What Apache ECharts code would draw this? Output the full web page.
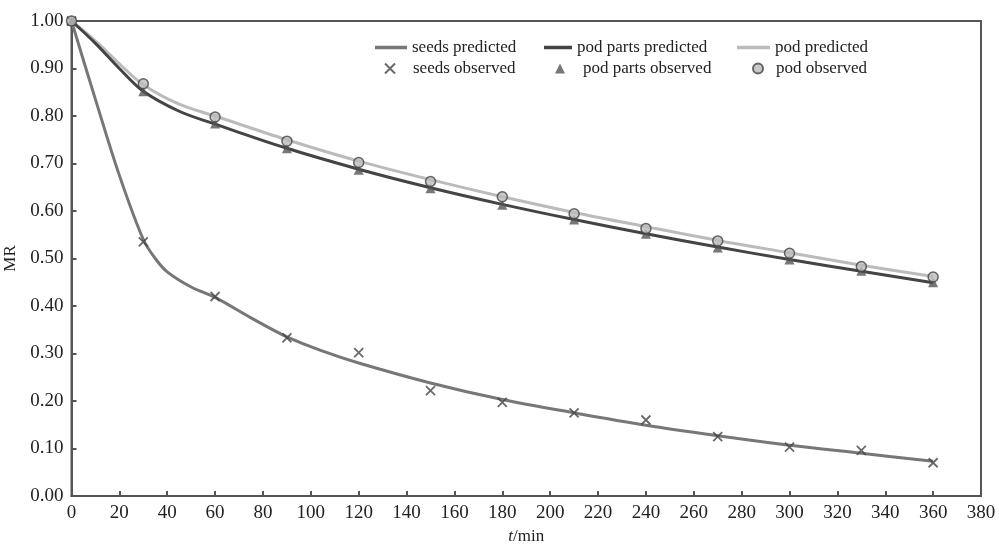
<!DOCTYPE html>
<html><head><meta charset="utf-8">
<script src="https://cdn.jsdelivr.net/npm/echarts@6/dist/echarts.min.js"></script>
<style>html,body{margin:0;padding:0;background:#fff}#c{width:999px;height:547px}</style>
</head><body><div id="c"></div>
<script>
const obsT = [0,30,60,90,120,150,180,210,240,270,300,330,360];
const seedsObs = [1.0,0.535,0.42,0.333,0.302,0.222,0.197,0.175,0.16,0.125,0.103,0.096,0.07];
const podPartsObs = [1.0,0.852,0.784,0.732,0.687,0.648,0.613,0.582,0.552,0.523,0.498,0.474,0.45];
const podObs = [1.0,0.868,0.798,0.747,0.702,0.662,0.63,0.594,0.563,0.537,0.511,0.483,0.461];

const seedsPredT = [0,10,20,30,35,40,50,60,75,90,105,120,150,180,210,240,270,300,330,360];
const seedsPred = [1.0,0.835,0.675,0.54,0.5,0.472,0.44,0.418,0.375,0.335,0.305,0.28,0.238,0.203,0.175,0.149,0.127,0.107,0.09,0.073];
const podPredT = [0,10,20,30,45,60,90,120,150,180,210,240,270,300,330,360];
const podPartsPred = [1.0,0.953,0.9,0.852,0.81,0.783,0.732,0.688,0.649,0.614,0.582,0.552,0.524,0.498,0.473,0.449];
const podPred = [1.0,0.958,0.91,0.866,0.825,0.8,0.75,0.705,0.666,0.63,0.597,0.567,0.538,0.512,0.486,0.462];

const xTicks = [0,380,20];
const yTicks = [0,1,0.1];

const pair = (t, v) => t.map((x, i) => [x, v[i]]);
const FONT = 'Liberation Serif';
const crossPath = 'path://M0,0L10,10M10,0L0,10';

const lineLegends = [
  {name:'seeds predicted', left:375, w:32, color:'#777'},
  {name:'pod parts predicted', left:544, w:28, color:'#444'},
  {name:'pod predicted', left:737, w:33, color:'#bbb'}
];
const markLegends = [
  {name:'seeds observed', left:384, pad:13, icon:crossPath},
  {name:'pod parts observed', left:555, pad:13, icon:'triangle'},
  {name:'pod observed', left:752, pad:8, icon:'circle'}
];

const legends = [];
lineLegends.forEach(p => legends.push({
  data:[{name:p.name, icon:'rect'}], left:p.left, top:39, padding:0, itemWidth:p.w, itemHeight:3.5,
  itemStyle:{color:p.color}, lineStyle:{width:0},
  textStyle:{fontFamily:FONT, fontSize:17, color:'#222'}, selectedMode:false
}));
markLegends.forEach(p => legends.push({
  data:[{name:p.name, icon:p.icon}], left:p.left, top:60, padding:0, itemWidth:10, itemHeight:10,
  textStyle:{fontFamily:FONT, fontSize:17, color:'#222', padding:[0,0,0,p.pad]}, selectedMode:false
}));

const chart = echarts.init(document.getElementById('c'), null, {renderer:'canvas'});
chart.setOption({
  animation:false,
  backgroundColor:'#fff',
  textStyle:{fontFamily:FONT},
  grid:{left:71.5, right:18, top:21, bottom:51, show:true, borderColor:'#555', borderWidth:2, containLabel:false, outerBoundsMode:'none'},
  legend: legends,
  xAxis:{
    type:'value', min:xTicks[0], max:xTicks[1], interval:xTicks[2],
    name:'{i|t}/min', nameLocation:'middle', nameGap:32,
    nameTextStyle:{fontFamily:FONT, fontSize:17, color:'#222', rich:{i:{fontStyle:'italic', fontFamily:FONT, fontSize:17, color:'#222'}}},
    axisLine:{lineStyle:{color:'#555', width:2}},
    axisTick:{inside:true, length:5, lineStyle:{color:'#555', width:2}},
    axisLabel:{fontFamily:FONT, fontSize:19, color:'#222', margin:8},
    splitLine:{show:false}
  },
  yAxis:{
    type:'value', min:yTicks[0], max:yTicks[1], interval:yTicks[2],
    name:'MR', nameLocation:'middle', nameGap:48, nameRotate:90,
    nameTextStyle:{fontFamily:FONT, fontSize:17, color:'#222'},
    axisLine:{lineStyle:{color:'#555', width:2}},
    axisTick:{inside:true, length:5, lineStyle:{color:'#555', width:2}},
    axisLabel:{fontFamily:FONT, fontSize:19, color:'#222', margin:8, formatter:v => v.toFixed(2)},
    splitLine:{show:false}
  },
  series:[
    {name:'seeds predicted', type:'line', data:pair(seedsPredT, seedsPred), smooth:0.35, showSymbol:false, symbol:'none',
     lineStyle:{color:'#777', width:3}, itemStyle:{color:'#777'}, z:2},
    {name:'pod parts predicted', type:'line', data:pair(podPredT, podPartsPred), smooth:0.35, showSymbol:false, symbol:'none',
     lineStyle:{color:'#444', width:3}, itemStyle:{color:'#444'}, z:2},
    {name:'pod predicted', type:'line', data:pair(podPredT, podPred), smooth:0.35, showSymbol:false, symbol:'none',
     lineStyle:{color:'#bbb', width:3}, itemStyle:{color:'#bbb'}, z:1},
    {name:'seeds observed', type:'scatter', data:pair(obsT, seedsObs), symbol:crossPath, symbolSize:9,
     itemStyle:{color:'#444', borderColor:'#444', borderWidth:1.8}, z:5},
    {name:'pod parts observed', type:'scatter', data:pair(obsT, podPartsObs), symbol:'triangle', symbolSize:10,
     itemStyle:{color:'#555'}, z:5},
    {name:'pod observed', type:'scatter', data:pair(obsT, podObs), symbol:'circle', symbolSize:10,
     itemStyle:{color:'#bbb', borderColor:'#444', borderWidth:1.5}, z:6}
  ]
});
</script>
</body></html>
